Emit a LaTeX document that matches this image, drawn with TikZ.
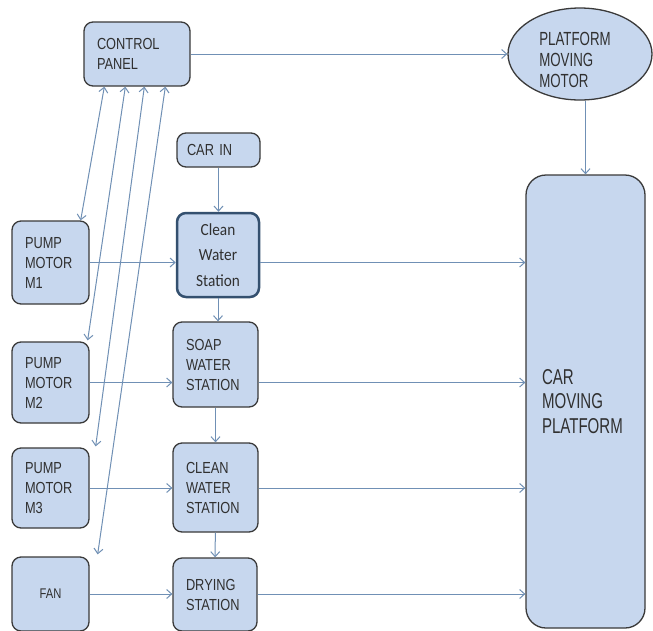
\documentclass[tikz,border=0pt]{standalone}
\usepackage{fontspec}
\setmainfont[FakeStretch=0.8]{Liberation Sans}
\newfontfamily\narrowfont[FakeStretch=0.7]{Liberation Sans}
\newfontfamily\calfont[FakeStretch=0.9]{Carlito}
\usetikzlibrary{arrows.meta,shapes.geometric}
\definecolor{boxfill}{HTML}{C7D7EE}
\definecolor{boxline}{HTML}{3A3A3A}
\definecolor{arrowc}{HTML}{7090B5}
\definecolor{txt}{HTML}{303030}
\definecolor{navy}{HTML}{34506F}
\begin{document}
\begin{tikzpicture}[x=1pt,y=-1pt,
  box/.style={draw=boxline, line width=1.3pt, fill=boxfill, rounded corners=9pt,
    inner xsep=13pt, inner ysep=0pt, align=left, text=txt,
    font=\fontsize{16}{20}\selectfont},
  tip/.tip={Straight Barb[length=5pt,width=9pt]},
  conn/.style={draw=arrowc, line width=1pt, -tip},
  biconn/.style={draw=arrowc, line width=1pt, tip-tip}]
\useasboundingbox (0,0) rectangle (653,630);
\fill[white] (0,0) rectangle (653,630);
\clip (0,0) rectangle (653,630);

% nodes
\node[box, minimum width=106, minimum height=64, text width=80] (cp) at (137,54) {CONTROL\\PANEL};
\node[ellipse, draw=boxline, line width=1.3pt, fill=boxfill, minimum width=144, minimum height=92,
  inner sep=0pt] (pmm) at (580,54) {};
\node[inner sep=0pt, align=left, text=txt, font=\narrowfont\fontsize{19}{21}\selectfont]
  (pmmtext) at ([xshift=-5pt,yshift=-6pt]pmm.center) {PLATFORM\\MOVING\\MOTOR};
\node[box, inner xsep=10pt, minimum width=83, minimum height=34, text width=63] (carin) at (218.5,150) {CAR IN};
\node[box, draw=navy, line width=2.5pt, align=center, minimum width=82, minimum height=84, text width=56,
  font=\calfont\fontsize{17}{25.5}\selectfont] (cws) at (218,255) {Clean\\Water\\Station};
\node[box, minimum width=77, minimum height=83, text width=51] (m1) at (50.5,262.5) {PUMP\\MOTOR\\M1};
\node[box, minimum width=85, minimum height=85, text width=59] (sws) at (215.5,364.5) {SOAP\\WATER\\STATION};
\node[box, minimum width=77, minimum height=81, text width=51] (m2) at (50.5,382.5) {PUMP\\MOTOR\\M2};
\node[box, minimum width=85, minimum height=89, text width=59] (cws2) at (215.5,487.5) {CLEAN\\WATER\\STATION};
\node[box, minimum width=77, minimum height=80, text width=51] (m3) at (50.5,488) {PUMP\\MOTOR\\M3};
\node[box, minimum width=84, minimum height=73, text width=58] (dry) at (215,594.5) {DRYING\\STATION};
\node[box, align=center, minimum width=77, minimum height=74, text width=51,
  font=\fontsize{14}{17}\selectfont] (fan) at (50.5,594) {FAN};
\node[box, rounded corners=20pt, inner xsep=16pt, minimum width=119, minimum height=453, text width=87,
  font=\narrowfont\fontsize{21.5}{24.5}\selectfont] (plat) at (585.5,401.5) {CAR\\MOVING\\PLATFORM};

% connectors
\draw[conn] (cp.east) -- (pmm.west);
\draw[conn] (pmm.south -| plat.north) -- (plat.north);
\draw[conn] (carin) -- (carin |- cws.north);
\draw[conn] (cws.south) -- (cws.south |- sws.north);
\draw[conn] (sws) -- (cws2);
\draw[conn] (cws2) -- (dry);

\draw[conn] (m1.east) -- (m1.east -| cws.west);
\draw[conn] (m2.east) -- (m2.east -| sws.west);
\draw[conn] (m3.east) -- (m3.east -| cws2.west);
\draw[conn] (fan.east) -- (fan.east -| dry.west);

\draw[conn] (m1.east -| cws.east) -- (m1.east -| plat.west);
\draw[conn] (m2.east -| sws.east) -- (m2.east -| plat.west);
\draw[conn] (m3.east -| cws2.east) -- (m3.east -| plat.west);
\draw[conn] (fan.east -| dry.east) -- (fan.east -| plat.west);

\draw[biconn] ([xshift=21pt]cp.south west) -- ([xshift=-9pt]m1.north east);
\draw[biconn] ([xshift=42pt]cp.south west) -- ([xshift=-2pt,yshift=1pt]m2.north east);
\draw[biconn] ([xshift=61pt]cp.south west) -- ([xshift=6pt,yshift=1pt]m3.north east);
\draw[biconn] ([xshift=82pt]cp.south west) -- ([xshift=8pt,yshift=2pt]fan.north east);
\end{tikzpicture}
\end{document}
